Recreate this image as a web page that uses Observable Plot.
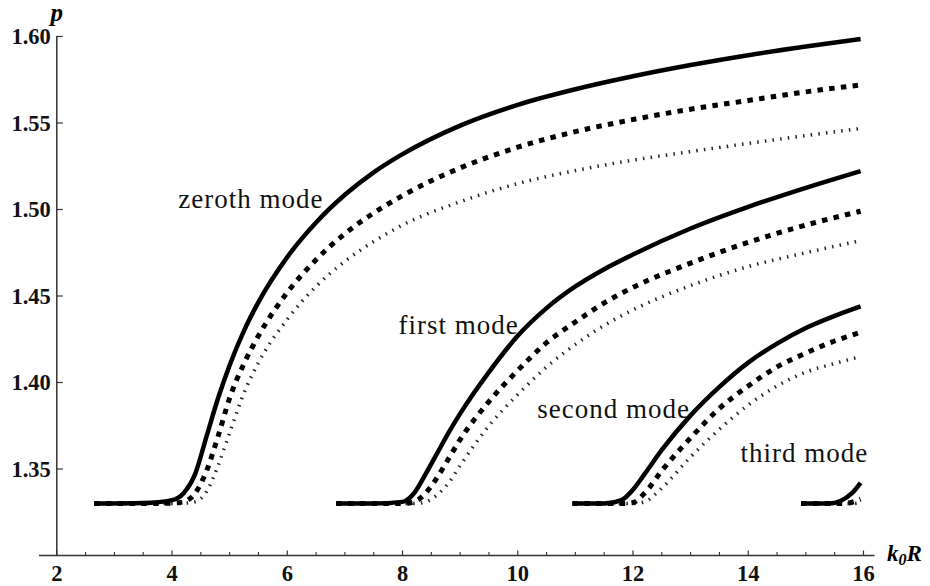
<!DOCTYPE html>
<html><head><meta charset="utf-8">
<script src="https://cdn.jsdelivr.net/npm/d3@7"></script>
<script src="https://cdn.jsdelivr.net/npm/@observablehq/plot@0.6"></script>
<style>body{margin:0;background:#fff} #chart svg{display:block;background:#fff}</style>
</head><body><div id="chart"></div>
<script>
// ---- data (k0R values and effective index p) ----
const zerothK      = [2.65, 3.5, 4.0, 4.2, 4.4, 4.6, 4.8, 5.0, 5.25, 5.5, 6.0, 6.5, 7.0, 7.5, 8.0, 9, 10, 11, 12, 13, 14, 15, 15.95];
const zerothSolid  = [1.330, 1.3303, 1.332, 1.336, 1.347, 1.369, 1.391, 1.410, 1.430, 1.4465, 1.4725, 1.4925, 1.5085, 1.5215, 1.532, 1.5485, 1.5605, 1.5695, 1.577, 1.5835, 1.5892, 1.5942, 1.5985];
const zerothDashed = [1.330, 1.330, 1.3303, 1.331, 1.336, 1.349, 1.369, 1.391, 1.411, 1.427, 1.452, 1.471, 1.486, 1.498, 1.508, 1.524, 1.536, 1.545, 1.552, 1.558, 1.563, 1.568, 1.572];
const zerothDotted = [1.330, 1.330, 1.330, 1.3302, 1.331, 1.337, 1.352, 1.371, 1.394, 1.4115, 1.4365, 1.4555, 1.470, 1.4815, 1.491, 1.5045, 1.515, 1.5225, 1.5285, 1.5335, 1.5382, 1.5427, 1.5468];

const firstK      = [6.85, 7.5, 8.0, 8.2, 8.4, 8.6, 8.8, 9.0, 9.5, 10, 10.5, 11, 11.5, 12, 13, 14, 15, 15.95];
const firstSolid  = [1.330, 1.330, 1.331, 1.336, 1.347, 1.359, 1.371, 1.382, 1.406, 1.427, 1.443, 1.4555, 1.4655, 1.474, 1.489, 1.5015, 1.5125, 1.5222];
const firstDashed = [1.330, 1.330, 1.330, 1.331, 1.336, 1.345, 1.356, 1.367, 1.389, 1.407, 1.423, 1.435, 1.446, 1.455, 1.469, 1.481, 1.491, 1.499];
const firstDotted = [1.330, 1.330, 1.330, 1.330, 1.331, 1.335, 1.342, 1.352, 1.375, 1.393, 1.409, 1.422, 1.433, 1.442, 1.456, 1.467, 1.475, 1.482];

const secondK      = [10.95, 11.5, 11.8, 12.0, 12.2, 12.5, 13, 13.5, 14, 14.5, 15, 15.5, 15.95];
const secondSolid  = [1.330, 1.330, 1.332, 1.338, 1.347, 1.361, 1.381, 1.3975, 1.4115, 1.4225, 1.4315, 1.4385, 1.444];
const secondDashed = [1.330, 1.330, 1.330, 1.3306, 1.336, 1.349, 1.368, 1.385, 1.398, 1.409, 1.417, 1.424, 1.429];
const secondDotted = [1.330, 1.330, 1.330, 1.330, 1.331, 1.339, 1.357, 1.373, 1.387, 1.398, 1.406, 1.411, 1.415];

const thirdK      = [14.92, 15.4, 15.6, 15.8, 15.95];
const thirdSolid  = [1.330, 1.330, 1.3315, 1.336, 1.342];
const thirdDashed = [1.330, 1.330, 1.330, 1.3308, 1.3325];
const thirdDotted = [1.330, 1.330, 1.330, 1.330, 1.3305];

const modeLabels = ["zeroth mode", "first mode", "second mode", "third mode"];
const labelK     = [4.11, 7.93, 10.34, 13.865];
const labelP     = [1.5006, 1.4283, 1.3792, 1.3539];

const xTickLabels = [2, 4, 6, 8, 10, 12, 14, 16];
const yTickLabels = [1.35, 1.40, 1.45, 1.50, 1.55, 1.60];
const xMinor = [2.5, 3, 3.5, 4.5, 5, 5.5, 6.5, 7, 7.5, 8.5, 9, 9.5, 10.5, 11, 11.5, 12.5, 13, 13.5, 14.5, 15, 15.5];
const yMinor = d3.range(31, 60).filter(i => i % 5 !== 0).map(i => i / 100);

// ---- build rows ----
const modes = [
  {mode: "zeroth", k: zerothK, solid: zerothSolid, dashed: zerothDashed, dotted: zerothDotted},
  {mode: "first", k: firstK, solid: firstSolid, dashed: firstDashed, dotted: firstDotted},
  {mode: "second", k: secondK, solid: secondSolid, dashed: secondDashed, dotted: secondDotted},
  {mode: "third", k: thirdK, solid: thirdSolid, dashed: thirdDashed, dotted: thirdDotted}
];
const rows = [];
for (const m of modes) for (const style of ["solid", "dashed", "dotted"])
  m.k.forEach((k, i) => rows.push({mode: m.mode, style, k, p: m[style][i]}));
const byStyle = s => rows.filter(d => d.style === s);
const labels = modeLabels.map((t, i) => ({t, k: labelK[i], p: labelP[i]}));

// tick symbols (short strokes drawn from the axis point inward)
const tickUp = {draw(ctx, size) { const l = Math.sqrt(size / Math.PI); ctx.moveTo(0, 0); ctx.lineTo(0, -l); }};
const tickRight = {draw(ctx, size) { const l = Math.sqrt(size / Math.PI); ctx.moveTo(0, 0); ctx.lineTo(l, 0); }};

const serif = "'Liberation Serif', 'Times New Roman', serif";
const axisColor = "#333";

const chart = Plot.plot({
  width: 930,
  height: 586,
  marginLeft: 39,
  marginRight: 55.5,
  marginTop: 36,
  marginBottom: 31,
  x: {domain: [1.7, 16.2], axis: null},
  y: {domain: [1.30, 1.60], axis: null},
  marks: [
    // axes lines
    Plot.ruleY([1.30], {stroke: axisColor, strokeWidth: 1.5}),
    Plot.ruleX([2], {y1: 1.30, y2: 1.60, stroke: axisColor, strokeWidth: 1.5}),
    // ticks
    Plot.dot(xTickLabels, {x: d => d, y: 1.30, r: 5, symbol: tickUp, stroke: axisColor, fill: "none", strokeWidth: 1.2}),
    Plot.dot(xMinor, {x: d => d, y: 1.30, r: 3.5, symbol: tickUp, stroke: axisColor, fill: "none", strokeWidth: 1.1}),
    Plot.dot(yTickLabels, {x: 2, y: d => d, r: 6, symbol: tickRight, stroke: axisColor, fill: "none", strokeWidth: 1.2}),
    Plot.dot(yMinor, {x: 2, y: d => d, r: 4, symbol: tickRight, stroke: axisColor, fill: "none", strokeWidth: 1.1}),
    // tick labels
    Plot.text(xTickLabels, {x: d => d, y: 1.30, text: d => String(d), dy: 25, lineAnchor: "bottom",
      fontFamily: serif, fontWeight: "bold", fontSize: 22.5, fill: "#111"}),
    Plot.text(yTickLabels, {x: 2, y: d => d, text: d => d.toFixed(2), dx: -6, dy: 7.5, textAnchor: "end", lineAnchor: "bottom",
      fontFamily: serif, fontWeight: "bold", fontSize: 22.5, fill: "#111"}),
    // axis labels
    Plot.text(["p"], {x: 2, y: 1.60, text: d => d, dy: -16, dx: 0, lineAnchor: "bottom",
      fontFamily: serif, fontWeight: "bold", fontStyle: "italic", fontSize: 25}),
    Plot.text(["k0R"], {x: 16.2, y: 1.30, text: d => d, dx: 12, dy: 5, textAnchor: "start", lineAnchor: "bottom",
      fontFamily: serif, fontWeight: "bold", fontStyle: "italic", fontSize: 23}),
    // curves
    Plot.line(byStyle("dotted"), {x: "k", y: "p", z: "mode", curve: "monotone-x", stroke: "#222",
      strokeWidth: 3.5, strokeDasharray: "1.5,6.2", strokeLinecap: "butt"}),
    Plot.line(byStyle("dashed"), {x: "k", y: "p", z: "mode", curve: "monotone-x", stroke: "#000",
      strokeWidth: 5, strokeDasharray: "5.5,6.3", strokeLinecap: "butt"}),
    Plot.line(byStyle("solid"), {x: "k", y: "p", z: "mode", curve: "monotone-x", stroke: "#000",
      strokeWidth: 4.5, strokeLinecap: "butt"}),
    // mode labels
    Plot.text(labels, {x: "k", y: "p", text: "t", textAnchor: "start", lineAnchor: "bottom",
      fontFamily: serif, fontSize: 27, fill: "#111"})
  ]
});

// subscript for k0R and letter spacing for mode labels
const NS = "http://www.w3.org/2000/svg";
chart.querySelectorAll("text").forEach(el => {
  const t = el.textContent;
  if (t === "k0R") {
    el.textContent = "";
    const a = document.createElementNS(NS, "tspan"); a.textContent = "k";
    const b = document.createElementNS(NS, "tspan"); b.textContent = "0"; b.setAttribute("font-size", "16"); b.setAttribute("dy", "4");
    const c = document.createElementNS(NS, "tspan"); c.textContent = "R"; c.setAttribute("dy", "-4");
    el.append(a, b, c);
  } else if (modeLabels.includes(t)) {
    el.style.letterSpacing = "1px";
  }
});
document.getElementById("chart").append(chart);
</script>
</body></html>
